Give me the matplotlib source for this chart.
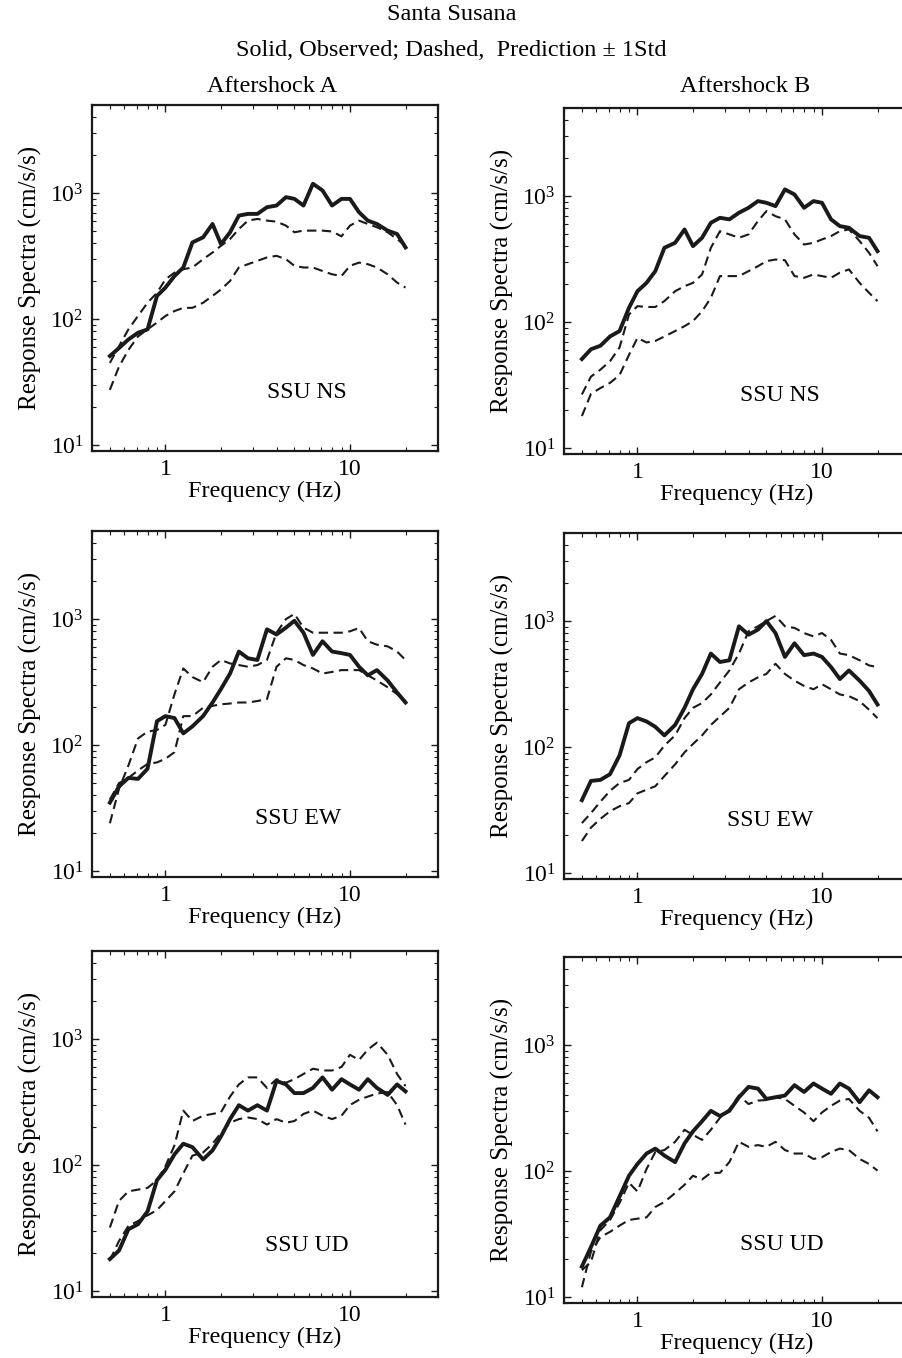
import numpy as np
import matplotlib
matplotlib.use('Agg')
import matplotlib.pyplot as plt
from matplotlib.ticker import FuncFormatter, NullFormatter

plt.rcParams['font.family'] = 'Liberation Serif'
plt.rcParams['mathtext.fontset'] = 'custom'
plt.rcParams['mathtext.rm'] = 'Liberation Serif'
plt.rcParams['mathtext.it'] = 'Liberation Serif:italic'

# Frequencies (Hz) shared by every spectrum
FREQ = [0.5, 0.56, 0.63, 0.71, 0.8, 0.9, 1.0, 1.12, 1.25, 1.4, 1.6, 1.8, 2.0,
        2.24, 2.5, 2.8, 3.15, 3.55, 4.0, 4.5, 5.0, 5.6, 6.3, 7.1, 8.0, 9.0,
        10.0, 11.2, 12.5, 14.0, 16.0, 18.0, 20.0]

# Aftershock A, NS component (cm/s/s)
a_ns_obs = [51, 59, 69, 78, 83, 153, 178, 220, 257, 406, 446, 569, 394, 489, 663, 684, 684,
            773, 797, 929, 900, 797, 1186, 1050, 797, 900, 900, 705, 605, 569, 504, 474, 371]
a_ns_hi = [45, 61, 83, 106, 135, 162, 207, 234, 249, 257, 299, 338, 382, 432, 519, 605, 624,
           605, 594, 552, 489, 504, 504, 504, 496, 454, 552, 605, 569, 536, 489, 432, 382]
a_ns_lo = [27.5, 42, 57, 73, 83, 94, 106, 116, 123, 123, 135, 153, 172, 201, 257, 273, 290,
           309, 318, 299, 265, 257, 257, 241, 227, 220, 265, 281, 273, 257, 227, 195, 178]

# Aftershock B, NS component
b_ns_obs = [51, 61, 65, 77, 85, 130, 176, 205, 254, 389, 426, 544, 401, 467, 614, 673, 654,
            738, 808, 913, 885, 833, 1130, 1030, 808, 913, 885, 654, 578, 561, 482, 467, 366]
b_ns_hi = [26.7, 37, 42, 49, 63, 115, 134, 132, 132, 147, 176, 193, 205, 239, 389, 527, 497,
           467, 497, 634, 760, 693, 654, 497, 413, 426, 453, 482, 527, 544, 440, 355, 278]
b_ns_lo = [18, 27, 30, 33, 38, 55, 75, 69, 71, 77, 85, 93, 102, 122, 156, 232, 232,
           232, 254, 278, 305, 314, 310, 232, 225, 239, 232, 225, 247, 262, 205, 171, 147]

# Aftershock A, EW component
a_ew_obs = [35, 47, 55, 54, 65, 155, 170, 164, 124, 141, 170, 218, 279, 370, 553, 489, 474,
            830, 755, 856, 970, 780, 520, 667, 553, 537, 520, 419, 358, 394, 326, 262, 218]
a_ew_hi = [24, 45, 69, 113, 128, 132, 145, 254, 406, 347, 316, 419, 474, 445, 432, 419, 432,
           474, 780, 1000, 1100, 856, 780, 780, 780, 780, 800, 850, 667, 627, 608, 553, 474]
a_ew_lo = [37, 50, 55, 63, 71, 73, 78, 88, 170, 170, 198, 205, 211, 214, 218, 218, 224,
           232, 419, 489, 474, 432, 406, 370, 381, 394, 394, 394, 358, 326, 288, 254, 224]

# Aftershock B, EW component
b_ew_obs = [38, 54, 55, 61, 86, 155, 170, 160, 145, 124, 150, 205, 288, 381, 553, 474, 489,
            910, 780, 856, 1000, 804, 520, 667, 537, 553, 520, 432, 347, 406, 337, 279, 218]
b_ew_hi = [25, 30, 37, 45, 52, 55, 67, 76, 83, 103, 124, 170, 205, 224, 262, 326, 406,
           553, 830, 910, 1000, 1100, 910, 883, 804, 756, 804, 710, 553, 537, 489, 445, 432]
b_ew_lo = [18, 23, 27, 31, 34, 36, 43, 46, 49, 59, 73, 91, 106, 124, 150, 175, 205,
           288, 326, 358, 381, 459, 381, 337, 306, 288, 316, 288, 262, 254, 232, 198, 170]

# Aftershock A, UD component
a_ud_obs = [18, 21, 31, 34, 43, 76, 92, 122, 148, 139, 111, 131, 169, 232, 299, 271, 299,
            271, 466, 437, 373, 373, 410, 497, 397, 481, 437, 397, 481, 410, 361, 437, 385]
a_ud_hi = [32, 52, 62, 64, 66, 76, 98, 144, 271, 224, 247, 255, 263, 350, 437, 497, 497,
           410, 481, 451, 481, 529, 582, 564, 564, 601, 751, 683, 826, 938, 751, 529, 424]
a_ud_lo = [17.6, 25, 33, 36, 40, 44, 52, 62, 86, 119, 126, 148, 180, 217, 232, 239, 232,
           210, 232, 217, 224, 255, 271, 247, 232, 247, 300, 330, 350, 370, 380, 300, 210]

# Aftershock B, UD component
b_ud_obs = [17.5, 25, 37, 43, 63, 92, 114, 138, 151, 133, 118, 166, 207, 249, 301, 274, 301,
            386, 466, 452, 374, 386, 398, 481, 425, 496, 452, 411, 496, 452, 352, 438, 386]
b_ud_hi = [16.4, 19, 34, 41, 56, 81, 69, 104, 142, 147, 171, 213, 194, 177, 213, 265, 310,
           399, 341, 363, 367, 386, 374, 330, 292, 249, 292, 330, 363, 374, 301, 265, 207]
b_ud_lo = [12, 23, 30, 33, 37, 41, 42, 43, 52, 57, 67, 78, 92, 86, 97, 97, 118,
           171, 156, 161, 156, 171, 147, 138, 138, 125, 129, 142, 151, 147, 125, 114, 101]

STATIONS = ['SSU NS', 'SSU EW', 'SSU UD']

W, H = 903, 1358
fig = plt.figure(figsize=(W / 100, H / 100), dpi=100)

# (left, top) of each square panel in pixels, plus where the station tag sits
panels = [
    (92, 105, a_ns_obs, a_ns_hi, a_ns_lo, STATIONS[0], 0.62, 0.17),
    (564, 108, b_ns_obs, b_ns_hi, b_ns_lo, STATIONS[0], 0.625, 0.17),
    (92, 531, a_ew_obs, a_ew_hi, a_ew_lo, STATIONS[1], 0.595, 0.17),
    (564, 533, b_ew_obs, b_ew_hi, b_ew_lo, STATIONS[1], 0.595, 0.17),
    (92, 951, a_ud_obs, a_ud_hi, a_ud_lo, STATIONS[2], 0.62, 0.15),
    (564, 957, b_ud_obs, b_ud_hi, b_ud_lo, STATIONS[2], 0.63, 0.168),
]
SIZE = 346
INK = '#1a1a1a'

for left, top, obs, hi, lo, tag, tx, ty in panels:
    ax = fig.add_axes([left / W, 1 - (top + SIZE) / H, SIZE / W, SIZE / H])
    ax.plot(FREQ, obs, color=INK, lw=2.8, solid_joinstyle='round')
    ax.plot(FREQ, hi, color=INK, lw=1.5, dashes=(4.5, 2.6))
    ax.plot(FREQ, lo, color=INK, lw=1.5, dashes=(4.5, 2.6))
    ax.set_xscale('log')
    ax.set_yscale('log')
    ax.set_xlim(0.4, 30)
    ax.set_ylim(9, 5000)
    ax.xaxis.set_major_formatter(FuncFormatter(lambda v, p: f'{v:g}'))
    ax.xaxis.set_minor_formatter(NullFormatter())
    ax.yaxis.set_major_formatter(
        FuncFormatter(lambda v, p: f'$10^{{{int(round(np.log10(v)))}}}$'))
    ax.yaxis.set_minor_formatter(NullFormatter())
    ax.tick_params(which='both', direction='in', top=True, right=True,
                   labelsize=17, color=INK)
    ax.tick_params(which='major', length=5, width=1.0, pad=6)
    ax.tick_params(which='minor', length=3, width=0.8)
    for sp in ax.spines.values():
        sp.set_linewidth(1.6)
        sp.set_color(INK)
    ax.set_xlabel('Frequency (Hz)', fontsize=17.5, labelpad=0)
    ax.set_ylabel('Response Spectra (cm/s/s)', fontsize=18, labelpad=6)
    ax.text(tx, ty, tag, transform=ax.transAxes, ha='center', va='center',
            fontsize=17)

fig.text(0.5, 1 - 15 / H, 'Santa Susana', ha='center', va='center', fontsize=17.5)
fig.text(0.5, 1 - 50 / H, 'Solid, Observed; Dashed,  Prediction \u00b1 1Std',
         ha='center', va='center', fontsize=17.5)
fig.text(272 / W, 1 - 87 / H, 'Aftershock A', ha='center', va='center', fontsize=17.5)
fig.text(745 / W, 1 - 87 / H, 'Aftershock B', ha='center', va='center', fontsize=17.5)

fig.savefig('out.png', dpi=100)
